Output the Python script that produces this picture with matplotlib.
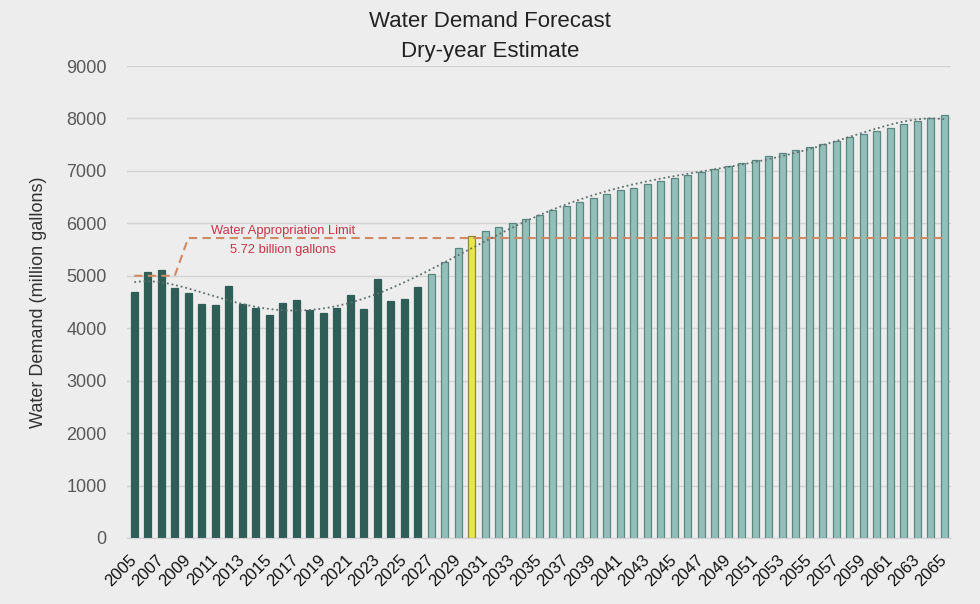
import numpy as np
import matplotlib
matplotlib.use("Agg")
import matplotlib.pyplot as plt

plt.rcParams['font.family'] = ['Liberation Sans', 'DejaVu Sans']

years = list(range(2005, 2066))
demand = [4700, 5070, 5105, 4770, 4670, 4460, 4450, 4810, 4465, 4390,
          4255, 4480, 4540, 4355, 4295, 4385, 4630, 4370, 4945, 4525,
          4555, 4790,
          5035, 5270, 5525, 5760, 5850, 5925, 6000, 6085, 6165, 6250,
          6325, 6405, 6490, 6565, 6630, 6680, 6745, 6800, 6860, 6920,
          6985, 7035, 7090, 7155, 7215, 7280, 7335, 7395, 7455, 7520,
          7575, 7640, 7705, 7765, 7825, 7890, 7950, 8005, 8065]
last_actual_year = 2026
highlight_year = 2030
limit = [5000 if y <= 2008 else 5720 for y in years]
limit_label = ["Water Appropriation Limit", "5.72 billion gallons"]
title = "Water Demand Forecast\nDry-year Estimate"
ylabel = "Water Demand (million gallons)"

bg = '#EDEDED'
fig = plt.figure(figsize=(9.8, 6.04), dpi=100, facecolor=bg)
ax = fig.add_axes([0.1301, 0.1093, 0.8403, 0.7814], facecolor=bg)

x = np.arange(len(years))
fills, edges = [], []
for y in years:
    if y <= last_actual_year:
        fills.append('#2E5E56'); edges.append('#2E5E56')
    elif y == highlight_year:
        fills.append('#E9E64C'); edges.append('#8E8C3A')
    else:
        fills.append('#93BFB8'); edges.append('#5A8880')
ax.bar(x, demand, width=0.55, color=fills, edgecolor=edges, linewidth=0.9, zorder=2)

# polynomial trendline (order 6) computed from the series, as the spreadsheet does
coef = np.polyfit(x + 1, demand, 6)
xt = np.linspace(0, len(years) - 1, 400)
ax.plot(xt, np.polyval(coef, xt + 1), linestyle=(0, (1, 1.6)), color='#5F6F6C',
        linewidth=1.3, zorder=4)

ax.plot(x, limit, linestyle=(0, (4, 2.5)), color='#CF8A63', linewidth=1.5, zorder=3)
ax.text(11, 5860, limit_label[0], color='#C4364A', fontsize=9.3, ha='center', va='center')
ax.text(11, 5492, limit_label[1], color='#C4364A', fontsize=9.3, ha='center', va='center')

ax.set_xlim(-0.5, len(years) - 0.5)
ax.set_ylim(0, 9000)
ax.set_yticks(range(0, 9001, 1000))
ax.yaxis.grid(True, color='#D3D3D3', linewidth=1.0, zorder=0)
ax.set_axisbelow(True)
ax.set_xticks(x[::2])
ax.set_xticklabels([str(y) for y in years[::2]], rotation=45, ha='right',
                   va='center', rotation_mode='anchor', fontsize=12, color='#111111')
ax.tick_params(axis='x', length=0, pad=14)
ax.tick_params(axis='y', length=0, pad=15, labelsize=13, labelcolor='#595959')
for s in ['top', 'right', 'left']:
    ax.spines[s].set_visible(False)
ax.spines['bottom'].set_color('#D3D3D3')

ax.set_ylabel(ylabel, fontsize=13, color='#333333', labelpad=14)
fig.text(0.5, 0.982, title, ha='center', va='top', fontsize=16, color='#222222',
         linespacing=1.55)

fig.savefig('out.png', dpi=100, facecolor=bg)
